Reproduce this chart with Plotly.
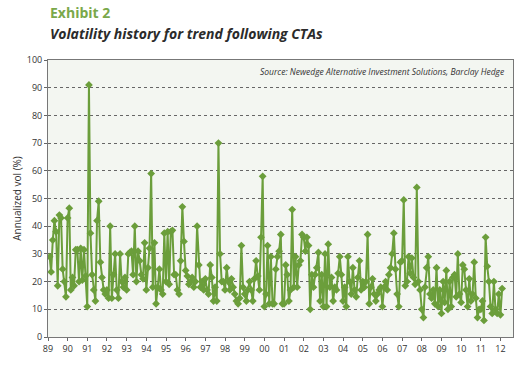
import pandas as pd
import plotly.graph_objects as go

# Monthly annualized volatility (%) of trend-following CTAs, Jan 1989 onward
vol_1989_1992 = [29, 23.5, 35, 42, 38, 18.5, 44, 43, 24.5, 20, 14.5, 43,
                 46.5, 17, 21.5, 18.5, 31.5, 31.5, 20, 32, 20.5, 31.5, 22, 11,
                 91, 37.5, 22.5, 17, 13, 42, 49, 27, 21.5, 17, 15.5, 17,
                 14, 40, 14, 22.5, 30, 17]
vol_1992_1996 = [14, 30, 20, 18, 21.5, 17, 30, 30.5, 31, 22.5, 40, 20,
                 31, 27.5, 22.5, 21, 34, 17, 25, 32, 59, 18, 34, 12,
                 18, 24.5, 17, 15.5, 37.5, 20, 38, 19, 38, 38.5, 22.5, 22.5,
                 17, 15.5, 27.5, 47, 34.5, 24, 22, 19, 20]
vol_1996_2000 = [21.5, 18, 20, 40, 26, 18, 20, 17, 21, 17, 15.5, 26,
                 21.5, 13, 18, 13, 70, 30, 20, 20, 17, 25, 20, 17,
                 21, 18, 15.5, 13, 12, 14, 33, 18, 15.5, 13, 17, 20,
                 17, 13, 21, 27.5, 22, 17, 36, 58, 11, 15.5, 33, 12,
                 29, 12]
vol_2000_2004 = [12, 24.5, 29, 31, 37, 12, 12, 26, 22.5, 13, 17, 46,
                 18, 29, 18, 26, 27.5, 37, 36, 31, 36, 33, 10, 22.5,
                 18, 22.5, 25, 30.5, 13, 22.5, 11, 30, 11, 33.5, 18, 21.5,
                 13, 18, 17, 23, 29, 22.5, 13, 18, 11]
vol_2004_2008 = [29, 20, 15.5, 25, 17, 14.5, 21.5, 27.5, 17, 20, 18, 20,
                 37, 12, 18, 21, 15.5, 13, 15.5, 17, 18, 11, 18, 20,
                 17, 22.5, 25, 30, 37.5, 24.5, 15.5, 11, 27, 27.5, 49.5, 18.5,
                 20, 29, 23, 28.5, 21.5, 19, 54, 20, 17, 10, 7, 18,
                 25, 29]
vol_2008_2012 = [15.5, 14, 17, 12, 25, 11, 17, 8.5, 20, 12.5, 24, 10,
                 20, 11, 21.5, 22.5, 14.5, 30, 15.5, 12.5, 26, 24.5, 17, 11,
                 21, 13, 15.5, 27, 14, 7, 10, 10, 13, 6, 36, 25.5,
                 20, 11, 8.5, 20, 10, 8.5, 15.5, 8, 17.5]

volatility = (vol_1989_1992 + vol_1992_1996 + vol_1996_2000 +
              vol_2000_2004 + vol_2004_2008 + vol_2008_2012)
dates = pd.date_range("1989-01-31", periods=len(volatility), freq="ME")

year_ticks = pd.date_range("1989-01-01", "2012-01-01", freq="YS")
year_labels = [d.strftime("%y") for d in year_ticks]

title_main = "Exhibit 2"
title_sub = "Volatility history for trend following CTAs"
source_text = "Source: Newedge Alternative Investment Solutions, Barclay Hedge"
y_title = "Annualized vol (%)"

green = "#6b9e3b"

fig = go.Figure()
fig.add_trace(go.Scatter(
    x=dates, y=volatility, mode="lines+markers",
    line=dict(color=green, width=2),
    marker=dict(symbol="diamond", size=6, color=green),
    hoverinfo="x+y", showlegend=False,
))

fig.update_layout(
    width=526, height=386,
    margin=dict(l=48, r=13, t=60, b=49),
    paper_bgcolor="white",
    plot_bgcolor="#f3f6f1",
    font=dict(family="Open Sans, Noto Sans, sans-serif", color="#333333"),
    xaxis=dict(
        range=["1989-01-01", "2012-08-20"],
        tickvals=year_ticks, ticktext=year_labels,
        tickfont=dict(size=9, color="#333333"),
        ticks="outside", ticklen=3, tickcolor="#666666",
        showgrid=False, showline=True, linecolor="#777777", linewidth=1,
        mirror=True, zeroline=False, automargin=False,
    ),
    yaxis=dict(
        range=[0, 100], dtick=10,
        tickfont=dict(size=9, color="#333333"),
        ticks="outside", ticklen=3, tickcolor="#666666",
        showgrid=True, gridcolor="#666666", griddash="dot", gridwidth=1,
        showline=True, linecolor="#777777", linewidth=1, mirror=True,
        zeroline=False, automargin=False,
        title=dict(text=y_title, font=dict(size=10, color="#333333"), standoff=3),
    ),
    annotations=[
        dict(text="<b>" + title_main + "</b>", xref="paper", yref="paper",
             x=0, y=1, xanchor="left", yanchor="bottom", yshift=36,
             showarrow=False, font=dict(size=14, color="#7aa84a")),
        dict(text="<b><i>" + title_sub + "</i></b>", xref="paper", yref="paper",
             x=0, y=1, xanchor="left", yanchor="bottom", yshift=15,
             showarrow=False, font=dict(size=14, color="#2b2b2b")),
        dict(text="<i>" + source_text + "</i>", xref="paper", yref="paper",
             x=0.985, y=0.985, xanchor="right", yanchor="top",
             showarrow=False, font=dict(size=8.5, color="#333333")),
    ],
)

fig.write_html("out.html",
               config={"displayModeBar": False},
               post_script="document.body.style.margin='0';document.body.style.padding='0';")
